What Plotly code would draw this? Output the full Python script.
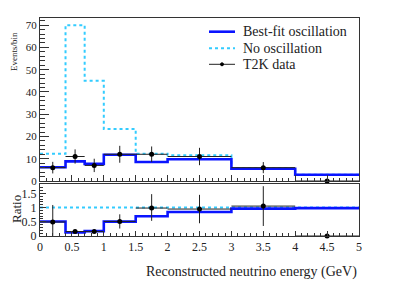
import numpy as np
import plotly.graph_objects as go

# ---------------- data ----------------
bin_edges = [0.0, 0.4, 0.7, 1.0, 1.5, 2.0, 3.0, 4.0, 5.0]
best_fit = [6.2, 8.8, 7.7, 11.8, 8.5, 9.8, 5.5, 2.8]
no_osc = [12.2, 70.0, 45.0, 23.4, 12.2, 11.6, 5.7, 2.85]
data_x = [0.2, 0.55, 0.85, 1.25, 1.75, 2.5, 3.5, 4.5]
data_y = [6, 11, 7, 12, 12, 11, 6, 0]
data_err = [2.6, 3.2, 3.0, 3.8, 3.5, 3.9, 2.5, 0.0]
ratio_err_hi = [0.6, 0.03, 0.04, 0.25, 0.49, 0.5, 0.7, 0.0]
ratio_err_lo = [0.49, 0.03, 0.04, 0.25, 0.45, 0.5, 0.7, 0.0]

x_ticks = [0, 0.5, 1, 1.5, 2, 2.5, 3, 3.5, 4, 4.5, 5]
legend_labels = ["Best-fit oscillation", "No oscillation", "T2K data"]

# ---------------- derived ----------------
edges = np.array(bin_edges)
bf = np.array(best_fit)
no = np.array(no_osc)
dy = np.array(data_y, dtype=float)
half_w = list(np.diff(edges) / 2)
ratio_bf = bf / no
ratio_no = no / no
ratio_data = dy / no

def step_y(v):
    v = list(v)
    return v + [v[-1]]

BLUE = "#0a14ff"
CYAN = "#33ccff"
FONT = "Liberation Serif, Times New Roman, Times, DejaVu Serif, serif"
AX = "#333333"

W, H = 399, 308
OFF = 8  # page body margin offset
ML, MT = 40, 18          # screen-space plot origin
PW, PH = 319, 218
SCR_BOTTOM = MT + PH     # 236

def px(xp):
    return (xp - ML) / PW

def py(yp):
    return (SCR_BOTTOM - yp) / PH

fig = go.Figure()

# main panel
fig.add_trace(go.Scatter(x=list(edges), y=step_y(no), mode="lines", line_shape="hv",
                         line=dict(color=CYAN, width=2, dash="dot"),
                         xaxis="x", yaxis="y", showlegend=False))
fig.add_trace(go.Scatter(x=list(edges), y=step_y(bf), mode="lines", line_shape="hv",
                         line=dict(color=BLUE, width=2.6),
                         xaxis="x", yaxis="y", showlegend=False))
fig.add_trace(go.Scatter(x=data_x, y=data_y, mode="markers",
                         marker=dict(color="black", size=5),
                         error_y=dict(type="data", array=data_err, color="#222", thickness=1, width=0),
                         error_x=dict(type="data", array=half_w, color="#222", thickness=1, width=0),
                         xaxis="x", yaxis="y", showlegend=False, cliponaxis=False))

# ratio panel
fig.add_trace(go.Scatter(x=list(edges), y=step_y(ratio_no), mode="lines", line_shape="hv",
                         line=dict(color=CYAN, width=2, dash="dot"),
                         xaxis="x2", yaxis="y2", showlegend=False))
fig.add_trace(go.Scatter(x=list(edges), y=step_y(ratio_bf), mode="lines", line_shape="hv",
                         line=dict(color=BLUE, width=2.6),
                         xaxis="x2", yaxis="y2", showlegend=False))
fig.add_trace(go.Scatter(x=data_x, y=list(ratio_data), mode="markers",
                         marker=dict(color="black", size=5),
                         error_y=dict(type="data", array=ratio_err_hi, arrayminus=ratio_err_lo,
                                      color="#222", thickness=1, width=0),
                         error_x=dict(type="data", array=half_w, color="#222", thickness=1, width=0),
                         xaxis="x2", yaxis="y2", showlegend=False, cliponaxis=False))

main_bottom = py(181)
ratio_top = py(184)

common_x = dict(range=[0, 5], showline=True, linecolor=AX, linewidth=1, mirror=True,
                ticks="inside", tickcolor=AX, showgrid=False, zeroline=False,
                tickvals=x_ticks)

fig.update_layout(
    width=W, height=H,
    margin=dict(l=ML - OFF, r=W - (ML - OFF) - PW, t=MT - OFF, b=H - (MT - OFF) - PH),
    paper_bgcolor="white", plot_bgcolor="white",
    font=dict(family=FONT, color="#222", size=12),
    showlegend=False,
    xaxis=dict(**common_x, anchor="y", domain=[0, 1], showticklabels=False, ticklen=6,
               minor=dict(dtick=0.1, ticklen=3, ticks="inside", tickcolor=AX)),
    yaxis=dict(range=[0, 73.2], domain=[main_bottom, 1], anchor="x",
               showline=True, linecolor=AX, linewidth=1, mirror=True,
               ticks="inside", ticklen=9, tickcolor=AX, dtick=10,
               minor=dict(dtick=2, ticklen=5, ticks="inside", tickcolor=AX),
               showgrid=False, zeroline=False,
               tickfont=dict(size=11, family=FONT, color="#222")),
    xaxis2=dict(**common_x, anchor="y2", domain=[0, 1], matches="x", ticklen=5,
                tickfont=dict(size=12, family=FONT, color="#222"),
                minor=dict(dtick=0.1, ticklen=3, ticks="inside", tickcolor=AX)),
    yaxis2=dict(range=[0, 1.83], domain=[0, ratio_top], anchor="x2",
                showline=True, linecolor=AX, linewidth=1, mirror=True,
                ticks="inside", ticklen=6, tickcolor=AX, tickvals=[0, 0.5, 1, 1.5],
                minor=dict(dtick=0.1, ticklen=3, ticks="inside", tickcolor=AX),
                showgrid=False, zeroline=False,
                tickfont=dict(size=12, family=FONT, color="#222")),
)

annotations = [
    dict(text="Events/bin", x=px(14), y=py(52), xref="paper", yref="paper",
         textangle=-90, showarrow=False, font=dict(size=9, family=FONT, color="#222"),
         xanchor="center", yanchor="middle"),
    dict(text="Ratio", x=px(16), y=py(209), xref="paper", yref="paper",
         textangle=-90, showarrow=False, font=dict(size=13, family=FONT, color="#222"),
         xanchor="center", yanchor="middle"),
    dict(text="Reconstructed neutrino energy (GeV)", x=px(359), y=py(272),
         xref="paper", yref="paper", showarrow=False,
         font=dict(size=14, family=FONT, color="#222"),
         xanchor="right", yanchor="middle"),
]

# manual legend
leg_rows = [31.7, 48.3, 64.3]
shapes = []
shapes.append(dict(type="line", xref="paper", yref="paper", x0=px(209), x1=px(235),
                   y0=py(leg_rows[0]), y1=py(leg_rows[0]), line=dict(color=BLUE, width=2.6)))
shapes.append(dict(type="line", xref="paper", yref="paper", x0=px(209), x1=px(235),
                   y0=py(leg_rows[1]), y1=py(leg_rows[1]), line=dict(color=CYAN, width=2, dash="dot")))
shapes.append(dict(type="line", xref="paper", yref="paper", x0=px(209), x1=px(235),
                   y0=py(leg_rows[2]), y1=py(leg_rows[2]), line=dict(color="#222", width=1)))
shapes.append(dict(type="circle", xref="paper", yref="paper", x0=px(220.5), x1=px(223.5),
                   y0=py(leg_rows[2] + 1.5), y1=py(leg_rows[2] - 1.5),
                   fillcolor="black", line=dict(color="black", width=1)))
for lab, r in zip(legend_labels, leg_rows):
    annotations.append(dict(text=lab, x=px(241), y=py(r), xref="paper", yref="paper",
                            showarrow=False, xanchor="left", yanchor="middle",
                            font=dict(size=14, family=FONT, color="#222")))

fig.update_layout(annotations=annotations, shapes=shapes)

fig.write_html("out.html")
